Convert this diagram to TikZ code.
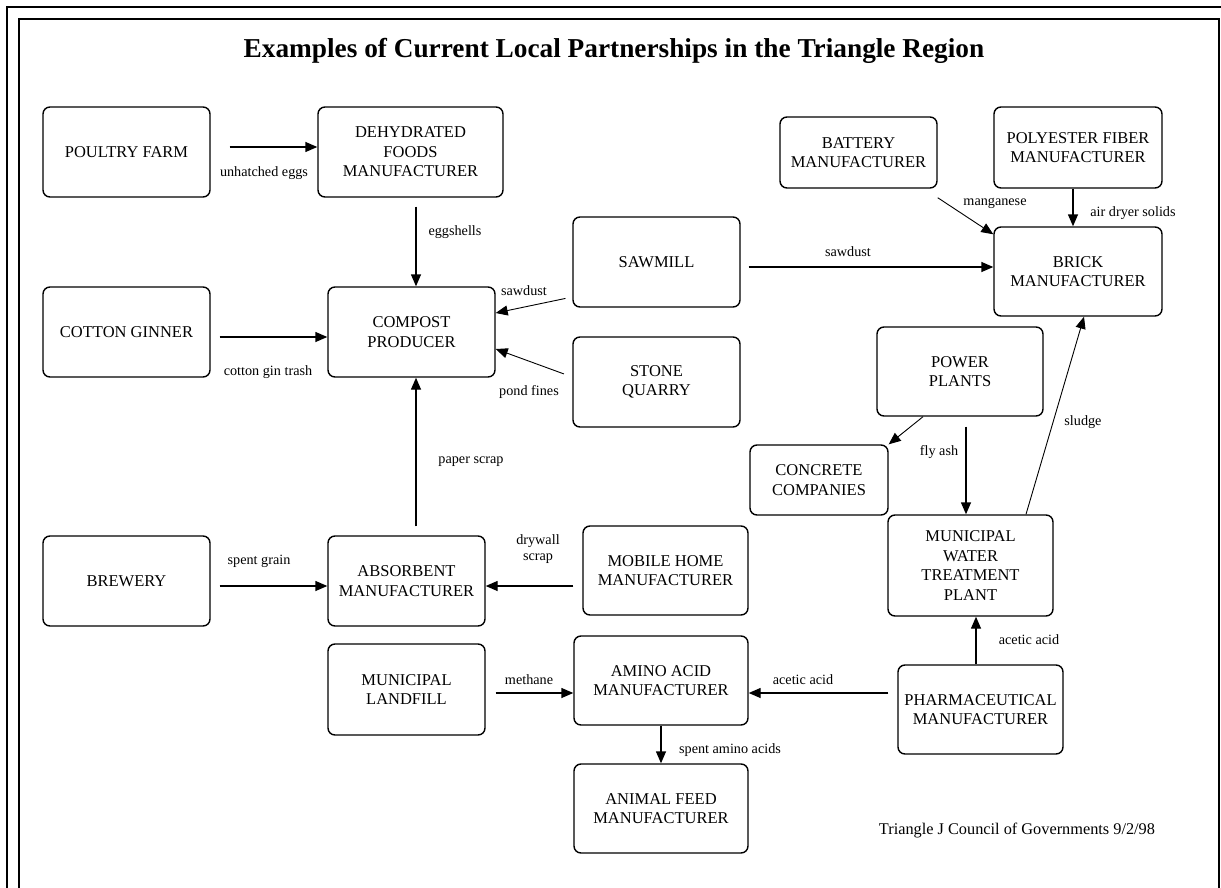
\documentclass[tikz,border=0pt]{standalone}
\usepackage{fontspec}
\setmainfont{Liberation Serif}
\usetikzlibrary{arrows.meta}
\tikzset{
	unit/.style={draw, line width=1.4pt, rounded corners=7pt, align=center,
		font=\fontsize{16.5}{19.5}\selectfont, inner sep=2pt},
	sz/.style 2 args={minimum width=#1pt, minimum height=#2pt},
	flow/.style={-{Triangle[length=12pt,width=10pt]}, line width=1.4pt},
	thinflow/.style={-{Triangle[length=12pt,width=10pt]}, line width=0.9pt},
	lbl/.style={font=\fontsize{14.2}{15.5}\selectfont, align=center, inner sep=0pt}
}
\begin{document}
\begin{tikzpicture}[x=1pt,y=-1pt]
	\useasboundingbox (0,0) rectangle (1221,888);
	% frame
	\draw[line width=1.5pt] (7,7) rectangle (1240,910);
	\draw[line width=1.5pt] (19,19) rectangle (1219,910);
	\node[font=\fontsize{27.3}{30}\selectfont\bfseries] (title) at (614,51) {Examples of Current Local Partnerships in the Triangle Region};
	% left column
	\node[unit, sz={167}{90}] (poultry) at (126.5,152) {POULTRY FARM};
	\node[unit, sz={167}{90}] (cotton) at (126.5,332) {COTTON GINNER};
	\node[unit, sz={167}{90}] (brewery) at (126.5,581) {BREWERY};
	% middle
	\node[unit, sz={185}{90}] (dehyd) at (410.5,152) {DEHYDRATED\\FOODS\\MANUFACTURER};
	\node[unit, sz={167}{90}] (compost) at (411.5,332) {COMPOST\\PRODUCER};
	\node[unit, sz={157}{90}] (absorbent) at (406.5,581) {ABSORBENT\\MANUFACTURER};
	\node[unit, sz={157}{91}] (landfill) at (406.5,689.5) {MUNICIPAL\\LANDFILL};
	\node[unit, sz={167}{90}] (sawmill) at (656.5,262) {SAWMILL};
	\node[unit, sz={167}{90}] (quarry) at (656.5,382) {STONE\\QUARRY};
	\node[unit, sz={165}{89}] (mobile) at (665.5,570.5) {MOBILE HOME\\MANUFACTURER};
	\node[unit, sz={174}{89}] (amino) at (661,680.5) {AMINO ACID\\MANUFACTURER};
	\node[unit, sz={174}{89}] (feed) at (661,808.5) {ANIMAL FEED\\MANUFACTURER};
	% right
	\node[unit, sz={157}{71}] (battery) at (858.5,152.5) {BATTERY\\MANUFACTURER};
	\node[unit, sz={168}{81}] (polyester) at (1078,147.5) {POLYESTER FIBER\\MANUFACTURER};
	\node[unit, sz={168}{89}] (brick) at (1078,271.5) {BRICK\\MANUFACTURER};
	\node[unit, sz={166}{89}] (power) at (960,371.5) {POWER\\PLANTS};
	\node[unit, sz={138}{70}] (concrete) at (819,480) {CONCRETE\\COMPANIES};
	\node[unit, sz={165}{101}] (water) at (970.5,565.5) {MUNICIPAL\\WATER\\TREATMENT\\PLANT};
	\node[unit, sz={165}{89}] (pharma) at (980.5,709.5) {PHARMACEUTICAL\\MANUFACTURER};
	% flows
	\draw[flow, shorten <=19pt] ([yshift=5pt]poultry.east) -- ([yshift=5pt]dehyd.west)
		node[lbl] at (264,173) {unhatched eggs};
	\draw[flow, shorten <=9pt] ([xshift=5.5pt]dehyd.south) -- ([xshift=4.5pt]compost.north)
		node[lbl] at (455,232) {eggshells};
	\draw[flow, shorten <=9pt] ([yshift=-5pt]cotton.east) -- ([yshift=-5pt]compost.west)
		node[lbl] at (268,372) {cotton gin trash};
	\draw[thinflow, shorten <=7pt] ([yshift=-35pt]sawmill.west) -- ([yshift=19pt]compost.east)
		node[lbl] at (524,291) {sawdust};
	\draw[thinflow, shorten <=9pt] ([yshift=5pt]quarry.west) -- ([yshift=-17pt]compost.east)
		node[lbl] at (529,392) {pond fines};
	\draw[flow, shorten <=9pt] ([xshift=9.5pt]absorbent.north) -- ([xshift=4.5pt]compost.south)
		node[lbl] at (471,462) {paper scrap};
	\draw[flow, shorten <=9pt] ([yshift=-5pt]brewery.east) -- ([yshift=-5pt]absorbent.west)
		node[lbl] at (259,561) {spent grain};
	\draw[flow, shorten <=9pt] ([yshift=-15.5pt]mobile.west) -- ([yshift=-5pt]absorbent.east)
		node[lbl] at (538,549) {drywall\\scrap};
	\draw[flow, shorten <=10pt] ([yshift=-3.5pt]landfill.east) -- ([yshift=-12.5pt]amino.west)
		node[lbl] at (529,680) {methane};
	\draw[flow, shorten <=9pt] ([yshift=16.5pt]pharma.west) -- ([yshift=-12.5pt]amino.east)
		node[lbl] at (803,680) {acetic acid};
	\draw[flow] (amino.south) -- (feed.north)
		node[lbl] at (730,750) {spent amino acids};
	\draw[flow] ([xshift=-4.5pt]pharma.north) -- ([xshift=5.5pt]water.south)
		node[lbl] at (1029,640) {acetic acid};
	\draw[flow, shorten <=10pt] ([xshift=6pt]power.south) -- ([xshift=-4.5pt]water.north)
		node[lbl] at (939,452) {fly ash};
	\draw[thinflow] ([xshift=-37pt]power.south) -- (concrete.north east);
	\draw[thinflow] ([xshift=55.5pt]water.north) -- ([xshift=6pt]brick.south)
		node[lbl] at (1083,422) {sludge};
	\draw[flow, shorten <=8pt] ([yshift=-5pt]sawmill.east) -- ([yshift=4.5pt]brick.west)
		node[lbl] at (848,252) {sawdust};
	\draw[thinflow] ([yshift=-9pt]battery.south east) -- ([yshift=-8pt]brick.north west)
		node[lbl] at (995,203) {manganese};
	\draw[flow] ([xshift=-5pt]polyester.south) -- ([xshift=-5pt]brick.north)
		node[lbl] at (1133,213) {air dryer solids};
	\node[lbl, font=\fontsize{16.3}{18}\selectfont] (credit) at (1017,831) {Triangle J Council of Governments 9/2/98};
\end{tikzpicture}
\end{document}
